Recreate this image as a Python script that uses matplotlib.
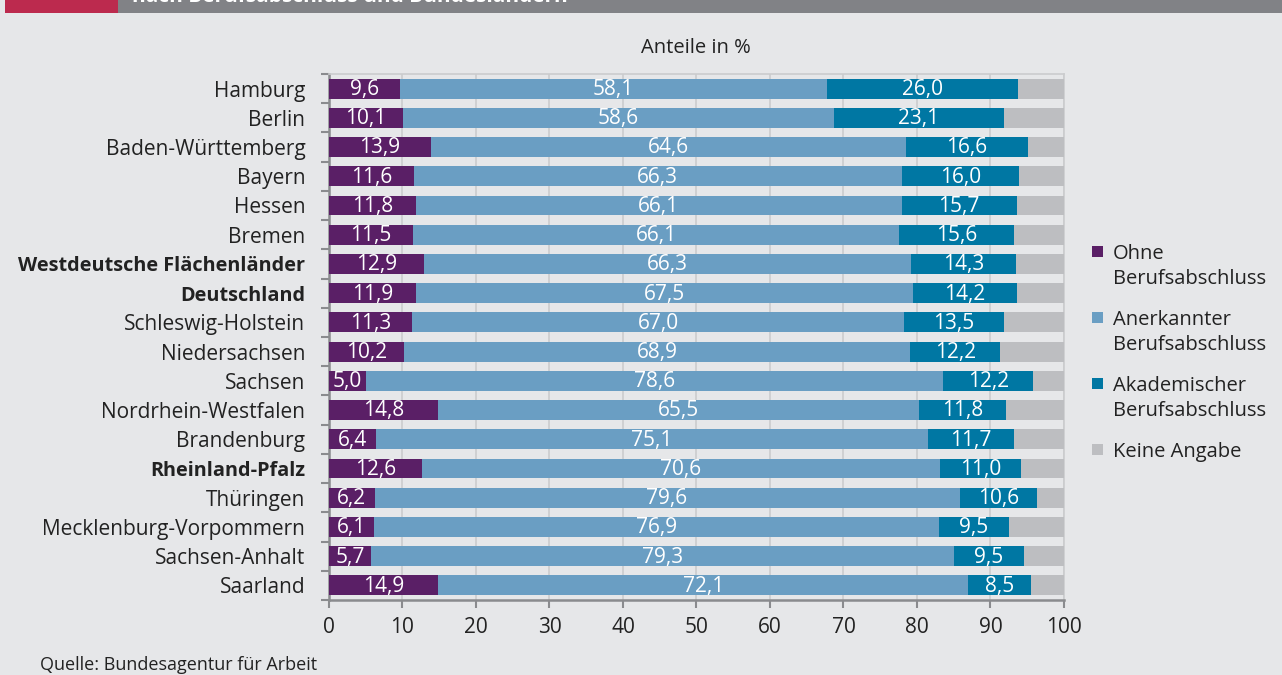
import matplotlib
matplotlib.use("Agg")
import matplotlib.pyplot as plt
from matplotlib.patches import Rectangle
import numpy as np

plt.rcParams["font.family"] = ["Open Sans", "DejaVu Sans"]

laender = ["Hamburg", "Berlin", "Baden-Württemberg", "Bayern", "Hessen", "Bremen",
           "Westdeutsche Flächenländer", "Deutschland", "Schleswig-Holstein",
           "Niedersachsen", "Sachsen", "Nordrhein-Westfalen", "Brandenburg",
           "Rheinland-Pfalz", "Thüringen", "Mecklenburg-Vorpommern",
           "Sachsen-Anhalt", "Saarland"]
fett = ["Westdeutsche Flächenländer", "Deutschland", "Rheinland-Pfalz"]

ohne = [9.6, 10.1, 13.9, 11.6, 11.8, 11.5, 12.9, 11.9, 11.3, 10.2, 5.0, 14.8, 6.4, 12.6, 6.2, 6.1, 5.7, 14.9]
anerkannt = [58.1, 58.6, 64.6, 66.3, 66.1, 66.1, 66.3, 67.5, 67.0, 68.9, 78.6, 65.5, 75.1, 70.6, 79.6, 76.9, 79.3, 72.1]
akademisch = [26.0, 23.1, 16.6, 16.0, 15.7, 15.6, 14.3, 14.2, 13.5, 12.2, 12.2, 11.8, 11.7, 11.0, 10.6, 9.5, 9.5, 8.5]
# Rest bis 100 = keine Angabe
keine = [round(100 - a - b - c, 1) for a, b, c in zip(ohne, anerkannt, akademisch)]

serien = ["Ohne\nBerufsabschluss", "Anerkannter\nBerufsabschluss",
          "Akademischer\nBerufsabschluss", "Keine Angabe"]
farben = ["#5a1f66", "#6a9ec3", "#0077a3", "#bdbec1"]
bg = "#e6e7e9"
txt = "#222222"

fig = plt.figure(figsize=(12.82, 6.75), dpi=100, facecolor=bg)
ax = fig.add_axes([0.2566, 0.1111, 0.5733, 0.7793], facecolor=bg)

# header bar (cut off at top)
fig.patches.append(Rectangle((0.004, 0.981), 0.088, 0.03, transform=fig.transFigure,
                             facecolor="#bc2a4e", edgecolor="none"))
fig.patches.append(Rectangle((0.092, 0.981), 0.91, 0.03, transform=fig.transFigure,
                             facecolor="#818286", edgecolor="none"))
fig.text(0.103, 0.989, "nach Berufsabschluss und Bundesländern", color="white",
         fontsize=15, fontweight="bold", va="bottom", ha="left")

y = np.arange(len(laender))
left = np.zeros(len(laender))
for werte, farbe, zeige in zip([ohne, anerkannt, akademisch, keine], farben,
                               [True, True, True, False]):
    werte = np.array(werte)
    ax.barh(y, werte, left=left, height=0.68, color=farbe, zorder=3)
    if zeige:
        for yi, l, w in zip(y, left, werte):
            ax.text(l + w / 2, yi + 0.03, f"{w:.1f}".replace(".", ","), ha="center", va="center",
                    color="white", fontsize=15, zorder=4)
    left += werte

ax.set_xlim(0, 100)
ax.set_ylim(len(laender) - 0.5, -0.5)
ax.set_xticks(range(0, 101, 10))
ax.tick_params(axis="x", labelsize=15, length=6, width=1.5, color="#8a8b8e", pad=6, labelcolor=txt)
ax.set_yticks(y)
ax.set_yticklabels(laender)
ax.tick_params(axis="y", length=0, labelsize=15, pad=17, labelcolor=txt)
ax.set_yticks(np.arange(-0.5, len(laender)), minor=True)
ax.tick_params(axis="y", which="minor", length=6, width=1.5, color="#8a8b8e")
for lab in ax.get_yticklabels():
    if lab.get_text() in fett:
        lab.set_fontweight("bold")
        lab.set_fontsize(14.3)

ax.grid(axis="x", color="#cbccce", linewidth=1.2, zorder=0)
for s in ["left", "bottom"]:
    ax.spines[s].set_color("#8a8b8e")
    ax.spines[s].set_linewidth(1.8)
for s in ["top", "right"]:
    ax.spines[s].set_color("#cbccce")
    ax.spines[s].set_linewidth(1.2)

fig.text(0.543, 0.929, "Anteile in %", ha="center", va="center", fontsize=14.5, color=txt)
fig.text(0.031, 0.015, "Quelle: Bundesagentur für Arbeit", ha="left", va="center",
         fontsize=13, color=txt)

# legend drawn by hand: square + two-line label
leg_y = 252
for i, (name, farbe) in enumerate(zip(serien, farben)):
    yy = 1 - (leg_y + i * 66) / 675
    fig.patches.append(Rectangle((1092 / 1282, yy - 5 / 675), 11 / 1282, 11 / 675,
                                 transform=fig.transFigure, facecolor=farbe, edgecolor="none"))
    fig.text(1113 / 1282, yy + 8 / 675, name, ha="left", va="top", fontsize=14.5,
             color=txt, linespacing=1.35)

fig.savefig("out.png", dpi=100, facecolor=bg)
